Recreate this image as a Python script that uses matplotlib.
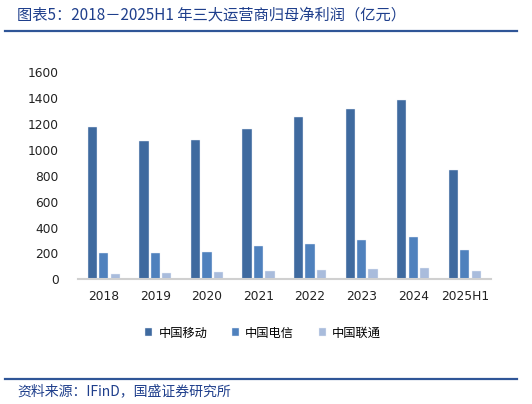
import numpy as np
import matplotlib.pyplot as plt
from matplotlib.lines import Line2D

plt.rcParams["font.family"] = ["Noto Sans CJK SC", "DejaVu Sans"]

# data (亿元)
years = ["2018", "2019", "2020", "2021", "2022", "2023", "2024", "2025H1"]
mobile = [1178, 1066, 1079, 1161, 1255, 1318, 1385, 843]
telecom = [206, 205, 209, 259, 276, 304, 330, 230]
unicom = [41, 50, 55, 63, 73, 82, 90, 63]
series_names = ["中国移动", "中国电信", "中国联通"]
colors = ["#3F6A9F", "#4F81BD", "#A9BCDC"]

fig = plt.figure(figsize=(5.32, 4.04), dpi=100)
ax = fig.add_axes([0.1466, 0.3087, 0.7754, 0.5123])

x = np.arange(len(years))
width = 0.18
step = 0.222
for i, (vals, name, c) in enumerate(zip([mobile, telecom, unicom], series_names, colors)):
    ax.bar(x + (i - 1) * step, vals, width, color=c, label=name,
           edgecolor="#E8EEF7", linewidth=0.3)

ax.set_xlim(-0.5, len(years) - 0.5)
ax.set_ylim(0, 1600)
ax.set_yticks(range(0, 1601, 200))
ax.set_xticks(x)
ax.set_xticklabels(years)
for lab in ax.get_xticklabels() + ax.get_yticklabels():
    lab.set_fontfamily("DejaVu Sans")
    lab.set_fontsize(8.8)
    lab.set_color("#222222")
ax.tick_params(axis="both", length=0)
ax.tick_params(axis="y", pad=14)
ax.tick_params(axis="x", pad=8)
for s in ["top", "right", "left"]:
    ax.spines[s].set_visible(False)
ax.spines["bottom"].set_color("#D0D0D0")
ax.spines["bottom"].set_linewidth(1.5)

ax.legend(loc="center", bbox_to_anchor=(263 / 532, 1 - 333 / 404),
          bbox_transform=fig.transFigure, ncol=3, frameon=False,
          fontsize=8.8, handlelength=0.6, handleheight=0.6,
          handletextpad=0.5, columnspacing=2.0)

title_color = "#1F3F8C"
fig.text(17 / 532, 1 - 15 / 404, "图表5：2018－2025H1 年三大运营商归母净利润（亿元）",
         fontsize=11, color=title_color, style="italic", va="center", ha="left")
fig.text(17 / 532, 1 - 391 / 404, "资料来源：IFinD，国盛证券研究所",
         fontsize=10, color=title_color, style="italic", va="center", ha="left")

for yy in [30.5, 378.7]:
    fig.add_artist(Line2D([5 / 532, 517 / 532], [1 - yy / 404, 1 - yy / 404],
                          color="#2F5597", linewidth=1.6))

fig.savefig("out.png", dpi=100)
